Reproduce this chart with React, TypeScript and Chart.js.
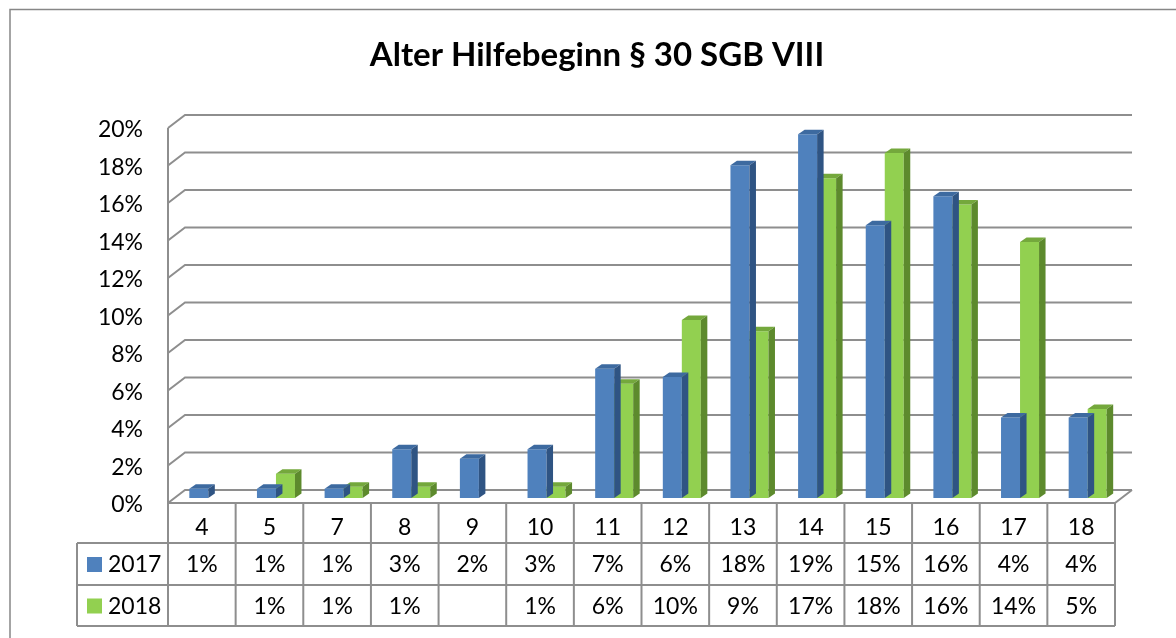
import React, { useEffect, useRef } from 'react';
import { Chart, registerables } from 'chart.js';

Chart.register(...registerables);

const TITLE = 'Alter Hilfebeginn § 30 SGB VIII';
const categories = ['4', '5', '7', '8', '9', '10', '11', '12', '13', '14', '15', '16', '17', '18'];
const seriesNames = ['2017', '2018'];
const values2017 = [0.5, 0.5, 0.5, 2.6, 2.1, 2.6, 6.9, 6.45, 17.75, 19.4, 14.55, 16.1, 4.3, 4.3];
const values2018 = [null, 1.3, 0.6, 0.6, null, 0.6, 6.1, 9.5, 8.9, 17.05, 18.4, 15.65, 13.65, 4.75];
const labels2017 = ['1%', '1%', '1%', '3%', '2%', '3%', '7%', '6%', '18%', '19%', '15%', '16%', '4%', '4%'];
const labels2018 = ['', '1%', '1%', '1%', '', '1%', '6%', '10%', '9%', '17%', '18%', '16%', '14%', '5%'];
const yTicks = [0, 2, 4, 6, 8, 10, 12, 14, 16, 18, 20];

const FRONT = ['#4F81BD', '#92D050'];
const TOP = ['#3D6AA0', '#74A83C'];
const SIDE = ['#2F5483', '#5D8A2D'];
const GRID = '#8E8E8E';
const FONT = 'Lato, "Open Sans", sans-serif';

// 3D geometry offsets
const FDX = -6.5, FDY = 5; // bar plane -> front plane
const BDX = 10.5, BDY = -8; // bar plane -> back wall
const BAR_DX = 6.5, BAR_DY = -4.5;

const threeD = {
  id: 'threeD',
  beforeDatasetsDraw(chart: any) {
    const { ctx, chartArea, scales } = chart;
    const xs = scales.x, ys = scales.y;
    const L = chartArea.left, R = chartArea.right;
    ctx.save();
    // outer frame
    ctx.strokeStyle = '#878787';
    ctx.lineWidth = 1.5;
    ctx.beginPath();
    ctx.moveTo(10, 640);
    ctx.lineTo(10, 9.5);
    ctx.lineTo(1180, 9.5);
    ctx.stroke();

    // title
    ctx.fillStyle = '#000';
    ctx.font = 'bold 33px ' + FONT;
    ctx.textAlign = 'center';
    ctx.textBaseline = 'alphabetic';
    ctx.fillText(TITLE, 597, 66);

    // gridlines
    ctx.strokeStyle = GRID;
    ctx.lineWidth = 2;
    yTicks.forEach((v) => {
      const y = ys.getPixelForValue(v);
      ctx.beginPath();
      ctx.moveTo(L + FDX, y + FDY);
      ctx.lineTo(L + BDX, y + BDY);
      ctx.lineTo(R + BDX, y + BDY);
      ctx.stroke();
    });
    const y0 = ys.getPixelForValue(0);
    const yTop = ys.getPixelForValue(yTicks[yTicks.length - 1]);
    ctx.beginPath();
    ctx.moveTo(L + FDX, yTop + FDY);
    ctx.lineTo(L + FDX, y0 + FDY);
    ctx.lineTo(R + FDX, y0 + FDY);
    ctx.lineTo(R + BDX, y0 + BDY);
    ctx.stroke();

    // tick labels
    ctx.fillStyle = '#000';
    ctx.font = '23px ' + FONT;
    ctx.textAlign = 'right';
    ctx.textBaseline = 'middle';
    yTicks.forEach((v) => {
      const y = ys.getPixelForValue(v);
      ctx.fillText(v + '%', 143, y + FDY + 2);
    });

    // data table
    const n = categories.length;
    const catW = (R - L) / n;
    const x0 = L + FDX;
    const r0 = y0 + FDY;
    const r1 = r0 + 40, r2 = r0 + 82, r3 = r0 + 123;
    const legL = 77;
    ctx.strokeStyle = GRID;
    ctx.lineWidth = 2;
    ctx.beginPath();
    for (let i = 0; i <= n; i++) {
      const x = x0 + i * catW;
      ctx.moveTo(x, r0);
      ctx.lineTo(x, r3);
    }
    [r1, r2, r3].forEach((r) => {
      ctx.moveTo(legL, r);
      ctx.lineTo(x0 + n * catW, r);
    });
    ctx.moveTo(legL, r1);
    ctx.lineTo(legL, r3);
    ctx.stroke();

    ctx.fillStyle = '#000';
    ctx.textAlign = 'center';
    ctx.textBaseline = 'middle';
    const rows = [labels2017, labels2018];
    for (let i = 0; i < n; i++) {
      const cx = xs.getPixelForTick(i) + FDX;
      ctx.fillText(categories[i], cx, (r0 + r1) / 2 + 5);
      ctx.fillText(rows[0][i], cx, (r1 + r2) / 2 + 1);
      ctx.fillText(rows[1][i], cx, (r2 + r3) / 2 + 1);
    }
    // legend keys
    ctx.textAlign = 'left';
    seriesNames.forEach((s, k) => {
      const cy = k === 0 ? (r1 + r2) / 2 : (r2 + r3) / 2;
      ctx.fillStyle = FRONT[k];
      ctx.fillRect(87, cy - 7, 15, 15);
      ctx.fillStyle = '#000';
      ctx.fillText(s, 108, cy + 1);
    });
    ctx.restore();
  },
  afterDatasetDraw(chart: any, args: any) {
    const { ctx } = chart;
    const k = args.index;
    const meta = chart.getDatasetMeta(k);
    ctx.save();
    meta.data.forEach((bar: any, i: number) => {
      const v = chart.data.datasets[k].data[i];
      if (v === null || v === undefined) return;
      const { x, y, base, width } = bar.getProps(['x', 'y', 'base', 'width'], true);
      const l = x - width / 2, r = x + width / 2;
      // top
      ctx.fillStyle = TOP[k];
      ctx.beginPath();
      ctx.moveTo(l, y);
      ctx.lineTo(r, y);
      ctx.lineTo(r + BAR_DX, y + BAR_DY);
      ctx.lineTo(l + BAR_DX, y + BAR_DY);
      ctx.closePath();
      ctx.fill();
      // side
      ctx.fillStyle = SIDE[k];
      ctx.beginPath();
      ctx.moveTo(r, y);
      ctx.lineTo(r + BAR_DX, y + BAR_DY);
      ctx.lineTo(r + BAR_DX, base + BAR_DY);
      ctx.lineTo(r, base);
      ctx.closePath();
      ctx.fill();
    });
    ctx.restore();
  },
};

export default function App() {
  const ref = useRef<HTMLCanvasElement>(null);
  useEffect(() => {
    document.body.style.margin = '0';
    const chart = new Chart(ref.current as HTMLCanvasElement, {
      type: 'bar',
      data: {
        labels: categories,
        datasets: [
          { label: seriesNames[0], data: values2017, backgroundColor: FRONT[0], borderWidth: 0, categoryPercentage: 0.562, barPercentage: 1 },
          { label: seriesNames[1], data: values2018, backgroundColor: FRONT[1], borderWidth: 0, categoryPercentage: 0.562, barPercentage: 1 },
        ],
      } as any,
      options: {
        animation: false,
        responsive: false,
        devicePixelRatio: 1,
        layout: { padding: { left: 174.5, right: 54.5, top: 123, bottom: 140 } },
        plugins: { legend: { display: false }, tooltip: { enabled: false }, title: { display: false } },
        scales: {
          x: { display: false, offset: true, grid: { display: false } },
          y: { display: false, min: 0, max: 20, grid: { display: false } },
        },
      },
      plugins: [threeD],
    });
    return () => chart.destroy();
  }, []);
  return (
    <div style={{ width: 1176, height: 638, background: '#fff' }}>
      <canvas ref={ref} width={1176} height={638} />
    </div>
  );
}
